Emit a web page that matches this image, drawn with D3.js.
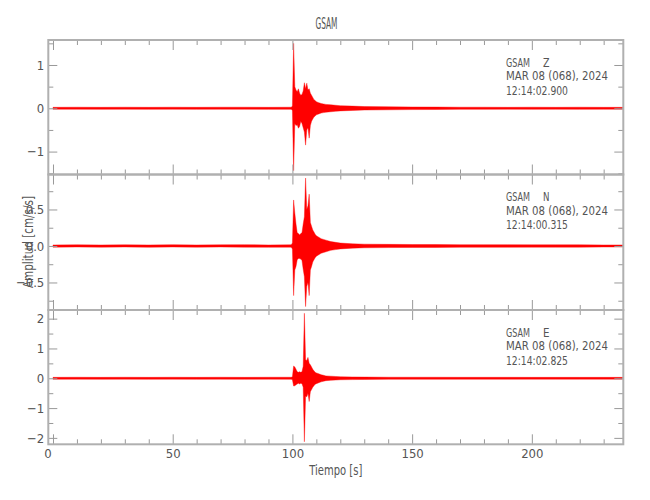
<!DOCTYPE html>
<html><head><meta charset="utf-8">
<script src="https://cdn.jsdelivr.net/npm/d3@7"></script>
<style>
body{margin:0;background:#fff}
text{font-family:"Liberation Sans Narrow","DejaVu Sans Condensed","Liberation Sans",sans-serif;}
</style>
</head><body>
<svg id="c" width="650" height="500"></svg>
<script>
// ---- data ----
const times = [0,10,20,30,40,50,60,70,80,90,99.5,
  100,100.5,101,101.5,102,102.5,103,103.5,104,104.5,105,105.5,106,106.5,107,107.5,108,108.5,109,109.5,110,
  111,112,113,114,116,118,120,125,130,
  140,150,160,170,180,190,200,210,220,230,238];

const zHi = [0.022,0.025,0.022,0.025,0.022,0.025,0.022,0.025,0.025,0.022,0.025,
  0.05,1.50,0.50,0.42,0.38,0.45,0.35,0.30,0.32,0.40,0.59,0.45,0.58,0.42,0.45,0.35,0.30,0.25,0.20,0.18,0.15,
  0.13,0.11,0.10,0.09,0.08,0.07,0.06,0.05,0.04,
  0.035,0.03,0.028,0.025,0.025,0.022,0.025,0.022,0.025,0.022,0.022];
const zLo = [-0.022,-0.022,-0.025,-0.022,-0.025,-0.022,-0.025,-0.022,-0.022,-0.025,-0.025,
  -0.05,-1.44,-0.35,-0.40,-0.38,-0.46,-0.42,-0.30,-0.35,-0.45,-0.55,-0.85,-0.50,-0.45,-0.69,-0.40,-0.30,-0.25,-0.20,-0.18,-0.15,
  -0.13,-0.11,-0.10,-0.09,-0.08,-0.07,-0.06,-0.05,-0.04,
  -0.035,-0.03,-0.028,-0.025,-0.025,-0.022,-0.025,-0.022,-0.025,-0.022,-0.022];

const nHi = [0.014,0.016,0.014,0.016,0.014,0.018,0.014,0.016,0.018,0.014,0.016,
  0.04,0.63,0.45,0.30,0.18,0.17,0.15,0.17,0.18,0.30,0.40,0.93,0.50,0.55,0.71,0.32,0.27,0.22,0.19,0.16,0.14,
  0.12,0.10,0.09,0.08,0.06,0.05,0.04,0.03,0.025,
  0.022,0.02,0.02,0.018,0.018,0.018,0.016,0.016,0.016,0.014,0.014];
const nLo = [-0.016,-0.014,-0.016,-0.014,-0.018,-0.014,-0.016,-0.014,-0.016,-0.018,-0.016,
  -0.04,-0.68,-0.33,-0.28,-0.19,-0.17,-0.17,-0.18,-0.20,-0.32,-0.42,-0.83,-0.55,-0.50,-0.68,-0.33,-0.28,-0.22,-0.19,-0.16,-0.14,
  -0.12,-0.10,-0.09,-0.08,-0.06,-0.05,-0.04,-0.03,-0.025,
  -0.022,-0.02,-0.02,-0.018,-0.018,-0.018,-0.016,-0.016,-0.016,-0.014,-0.014];

const eHi = [0.03,0.034,0.03,0.034,0.03,0.034,0.03,0.034,0.03,0.034,0.034,
  0.05,0.41,0.38,0.30,0.22,0.20,0.22,0.20,0.22,0.40,2.18,0.62,0.60,0.70,0.50,0.45,0.38,0.30,0.25,0.20,0.18,
  0.15,0.12,0.10,0.08,0.07,0.06,0.05,0.045,0.04,
  0.035,0.034,0.034,0.032,0.032,0.032,0.03,0.03,0.03,0.03,0.03];
const eLo = [-0.034,-0.03,-0.034,-0.03,-0.034,-0.03,-0.034,-0.03,-0.034,-0.03,-0.034,
  -0.05,-0.26,-0.25,-0.22,-0.19,-0.17,-0.19,-0.17,-0.18,-0.30,-2.13,-0.60,-0.62,-0.50,-0.78,-0.45,-0.38,-0.30,-0.25,-0.20,-0.18,
  -0.15,-0.12,-0.10,-0.08,-0.07,-0.06,-0.05,-0.045,-0.04,
  -0.035,-0.034,-0.034,-0.032,-0.032,-0.032,-0.03,-0.03,-0.03,-0.03,-0.03];

const xMajor = [0,50,100,150,200];
const xMinor = [10,20,30,40,60,70,80,90,110,120,130,140,160,170,180,190,210,220,230];
const zMajor = [-1,0,1], zMinor = [-1.5,-0.5,0.5,1.5];
const nMajor = [-0.5,0,0.5], nMinor = [-0.75,-0.25,0.25,0.75];
const eMajor = [-2,-1,0,1,2], eMinor = [-1.5,-0.5,0.5,1.5];

const station = "GSAM";
const components = ["Z","N","E"];
const dateLabel = "MAR 08 (068), 2024";
const startTimes = ["12:14:02.900","12:14:00.315","12:14:02.825"];
const title = "GSAM";
const xTitle = "Tiempo [s]";
const yTitle = "Amplitud [cm/s/s]";

// ---- layout ----
const svg = d3.select("#c");
const L = 48.3, R = 623.3;
const x = d3.scaleLinear().domain([-1.96, 238.2]).range([L, R]);
const axisCol = "#b0b0b0", tickCol = "#999", textCol = "#555";

const panels = [
  {hi:zHi, lo:zLo, top:40, bottom:174.5, dom:[-1.529,1.577], major:zMajor, minor:zMinor, fmt:d3.format("d")},
  {hi:nHi, lo:nLo, top:174.5, bottom:310, dom:[-0.877,0.979], major:nMajor, minor:nMinor, fmt:d3.format(".1f")},
  {hi:eHi, lo:eLo, top:310, bottom:444.3, dom:[-2.215,2.29], major:eMajor, minor:eMinor, fmt:d3.format("d")}
];

function styleAxis(g){
  g.select(".domain").remove();
  g.selectAll(".tick line").attr("stroke", tickCol).attr("stroke-width", 1);
  g.selectAll(".tick text").attr("fill", textCol).attr("font-size", 13);
}

panels.forEach((p, i) => {
  const y = d3.scaleLinear().domain(p.dom).range([p.bottom, p.top]);
  const g = svg.append("g");
  const pts = times.map((t, k) => [t, p.lo[k], p.hi[k]]);
  g.append("path").datum(pts)
    .attr("d", d3.area().x(d => x(d[0])).y0(d => y(d[1])).y1(d => y(d[2])))
    .attr("fill", "#ff0000").attr("stroke", "#ff0000").attr("stroke-width", 0.4);

  // y axes (left labelled, right unlabelled)
  g.append("g").attr("transform", `translate(${L},0)`)
    .call(d3.axisLeft(y).tickValues(p.major).tickSize(-9).tickPadding(4).tickFormat(p.fmt)).call(styleAxis);
  g.append("g").attr("transform", `translate(${L},0)`)
    .call(d3.axisLeft(y).tickValues(p.minor).tickSize(-5).tickFormat("")).call(styleAxis);
  g.append("g").attr("transform", `translate(${R},0)`)
    .call(d3.axisRight(y).tickValues(p.major).tickSize(-9).tickFormat("")).call(styleAxis);
  g.append("g").attr("transform", `translate(${R},0)`)
    .call(d3.axisRight(y).tickValues(p.minor).tickSize(-5).tickFormat("")).call(styleAxis);

  // x ticks top and bottom
  g.append("g").attr("transform", `translate(0,${p.top})`)
    .call(d3.axisTop(x).tickValues(xMajor).tickSize(-10).tickFormat("")).call(styleAxis);
  g.append("g").attr("transform", `translate(0,${p.top})`)
    .call(d3.axisTop(x).tickValues(xMinor).tickSize(-5).tickFormat("")).call(styleAxis);
  const bx = g.append("g").attr("transform", `translate(0,${p.bottom})`)
    .call(d3.axisBottom(x).tickValues(xMajor).tickSize(-10).tickPadding(4.5)
      .tickFormat(i === 2 ? d3.format("d") : "")).call(styleAxis);
  if (i === 2) bx.selectAll(".tick").filter(d => d === 0).select("text").attr("dx", -5.5);
  g.append("g").attr("transform", `translate(0,${p.bottom})`)
    .call(d3.axisBottom(x).tickValues(xMinor).tickSize(-5).tickFormat("")).call(styleAxis);

  // border
  g.append("rect").attr("x", L).attr("y", p.top).attr("width", R - L).attr("height", p.bottom - p.top)
    .attr("fill", "none").attr("stroke", axisCol).attr("stroke-width", 2);

  // annotation
  const ax = 506, fs = 12;
  g.append("text").attr("x", ax).attr("y", p.top + 26.5).attr("font-size", fs).attr("fill", textCol)
    .attr("textLength", 24).attr("lengthAdjust", "spacingAndGlyphs").text(station);
  g.append("text").attr("x", 543).attr("y", p.top + 26.5).attr("font-size", fs).attr("fill", textCol)
    .attr("textLength", 6.5).attr("lengthAdjust", "spacingAndGlyphs").text(components[i]);
  g.append("text").attr("x", ax).attr("y", p.top + 40.4).attr("font-size", fs).attr("fill", textCol)
    .attr("textLength", 102).attr("lengthAdjust", "spacingAndGlyphs").text(dateLabel);
  g.append("text").attr("x", ax).attr("y", p.top + 54.5).attr("font-size", fs).attr("fill", textCol)
    .attr("textLength", 62).attr("lengthAdjust", "spacingAndGlyphs").text(startTimes[i]);
});

// titles
svg.append("text").attr("x", 326.5).attr("y", 29.3).attr("text-anchor", "middle")
  .attr("font-size", 16).attr("fill", textCol)
  .attr("textLength", 22).attr("lengthAdjust", "spacingAndGlyphs").text(title);
svg.append("text").attr("x", 335.8).attr("y", 474.5).attr("text-anchor", "middle")
  .attr("font-size", 13.5).attr("fill", textCol)
  .attr("textLength", 53).attr("lengthAdjust", "spacingAndGlyphs").text(xTitle);
svg.append("text").attr("transform", "translate(33,242) rotate(-90)").attr("text-anchor", "middle")
  .attr("font-size", 13.5).attr("fill", textCol)
  .attr("textLength", 92).attr("lengthAdjust", "spacingAndGlyphs").text(yTitle);
</script>
</body></html>
